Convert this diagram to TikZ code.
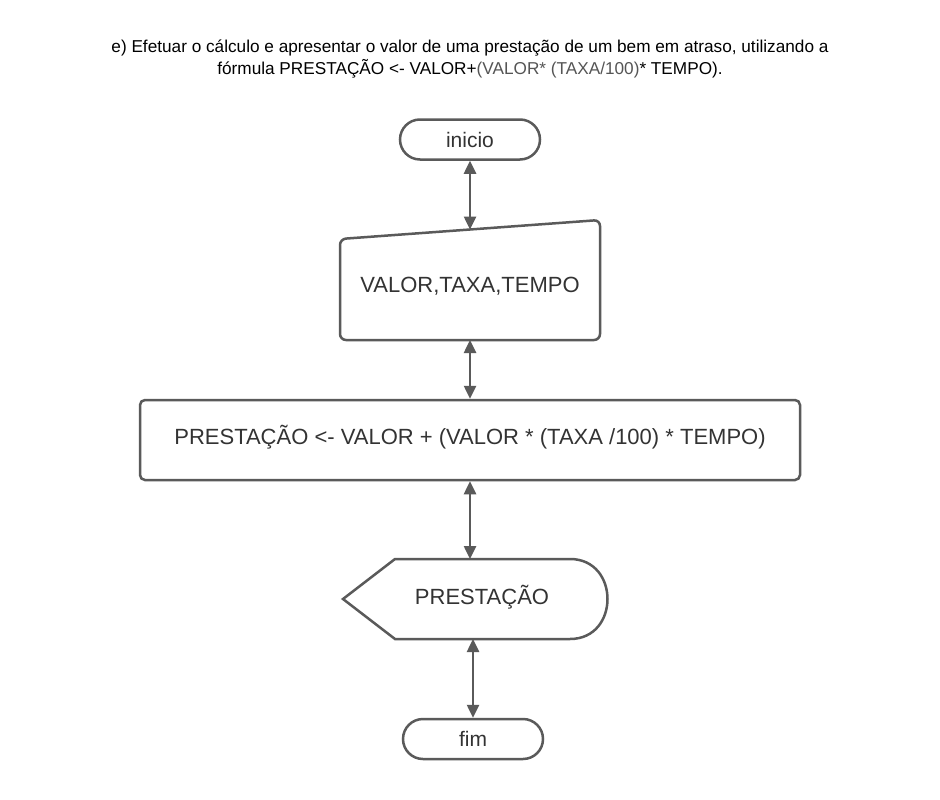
\documentclass[tikz,border=0pt]{standalone}
\usepackage{fontspec}
\setmainfont{Liberation Sans}
\usetikzlibrary{arrows.meta,shapes.misc}
\definecolor{ln}{HTML}{5A5A5A}
\definecolor{tx}{HTML}{333333}
\definecolor{tg}{HTML}{555555}
\begin{document}
\begin{tikzpicture}[x=1pt,y=-1pt,
  shp/.style={draw=ln,line width=2.5pt,rounded corners=6pt},
  term/.style={draw=ln,line width=2.5pt,rounded rectangle,minimum width=140pt,minimum height=40pt,inner sep=0pt,font=\fontsize{21}{24}\selectfont,text=tx},
  lbl/.style={font=\fontsize{22}{26}\selectfont,text=tx,inner sep=0pt},
  conn/.style={draw=ln,line width=2.5pt,{Triangle[length=13pt,width=12pt]}-{Triangle[length=13pt,width=12pt]}}]
\fill[white] (0,0) rectangle (940,800);
\useasboundingbox (0,0) rectangle (940,800);
% title
\node[font=\fontsize{17.2}{22}\selectfont,align=center,inner sep=0pt] (title) at (470,58.5)
 {e) Efetuar o cálculo e apresentar o valor de uma prestação de um bem em atraso, utilizando a\\
  fórmula PRESTAÇÃO <- VALOR+{\color{tg}(VALOR* (TAXA/100)}* TEMPO).};
% inicio
\node[term] (ini) at (470,139.5) {inicio};
% input
\draw[shp] (340,239) -- (600,220) -- (600,340) -- (340,340) -- cycle;
\node[lbl] (inp) at (470,286) {VALOR,TAXA,TEMPO};
\coordinate (inpT) at (470,229.5);
\coordinate (inpB) at (470,340);
% process
\node[draw=ln,line width=2.5pt,rounded corners=5pt,minimum width=660pt,minimum height=80pt,inner sep=0pt] (proc) at (470,440) {};
\node[lbl] (proct) at (470,437) {PRESTAÇÃO <- VALOR + (VALOR * (TAXA /100) * TEMPO)};
% display
\draw[shp,rounded corners=0pt] (343,599) -- (395,559) -- (570,559)
   .. controls (620,559) and (620,639) .. (570,639) -- (395,639) -- cycle;
\node[lbl] (disp) at (482,597) {PRESTAÇÃO};
\coordinate (dispT) at (470,559);
\coordinate (dispB) at (473,639);
% fim
\node[term] (fim) at (473,739) {fim};
% connectors
\draw[conn] (ini.south) -- (inpT);
\draw[conn] (inpB) -- (proc.north -| inpB);
\draw[conn] (proc.south -| dispT) -- (dispT);
\draw[conn] (dispB) -- (fim.north);
\end{tikzpicture}
\end{document}
